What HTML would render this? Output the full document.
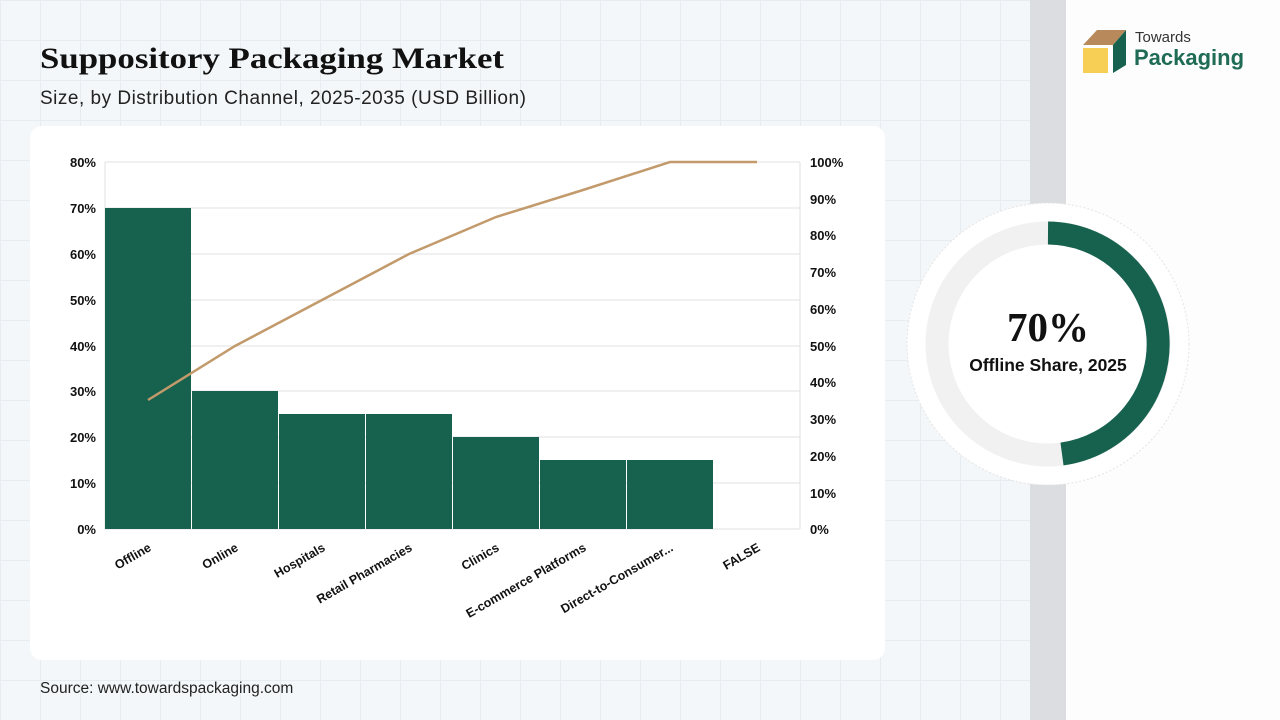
<!DOCTYPE html><html><head><style>
body{margin:0;width:1280px;height:720px;overflow:hidden;font-family:"Liberation Sans",sans-serif;position:relative;
background-color:#f4f7f9;background-image:linear-gradient(#e6ecef 1px,transparent 1px),linear-gradient(90deg,#e6ecef 1px,transparent 1px);background-size:40px 40px}
</style></head><body>
<div style="position:absolute;left:1030px;top:0;width:36px;height:720px;background:#dcdde0"></div>
<div style="position:absolute;left:1066px;top:0;width:214px;height:720px;background:#fdfdfd"></div>
<div style="position:absolute;left:40px;top:42px;font-family:'Liberation Serif',serif;font-weight:bold;font-size:30px;color:#111;transform:scaleX(1.16);transform-origin:left top;white-space:nowrap">Suppository Packaging Market</div>
<div style="position:absolute;left:40px;top:88px;font-size:19px;letter-spacing:0.5px;color:#222;white-space:nowrap">Size, by Distribution Channel, 2025-2035 (USD Billion)</div>
<div style="position:absolute;left:30px;top:126px;width:855px;height:534px;background:#fff;border-radius:12px"></div>
<div style="position:absolute;left:40px;top:680px;font-size:15.5px;color:#222">Source: www.towardspackaging.com</div>
<svg width="1280" height="720" style="position:absolute;left:0;top:0" font-family="Liberation Sans" font-weight="bold" font-size="13">
<g stroke="#e0e0e0">
<line x1="105" x2="800" y1="162" y2="162"/><line x1="105" x2="800" y1="208" y2="208"/><line x1="105" x2="800" y1="254" y2="254"/><line x1="105" x2="800" y1="300" y2="300"/><line x1="105" x2="800" y1="346" y2="346"/><line x1="105" x2="800" y1="391" y2="391"/><line x1="105" x2="800" y1="437" y2="437"/><line x1="105" x2="800" y1="483" y2="483"/><line x1="105" x2="800" y1="529" y2="529"/>
<line x1="105" x2="105" y1="162" y2="529"/><line x1="800" x2="800" y1="162" y2="529"/></g>
<g fill="#17614f">
<rect x="105" y="208" width="86" height="321"/><rect x="192" y="391" width="86" height="138"/><rect x="279" y="414" width="86" height="115"/><rect x="366" y="414" width="86" height="115"/><rect x="453" y="437" width="86" height="92"/><rect x="540" y="460" width="86" height="69"/><rect x="627" y="460" width="86" height="69"/></g>
<polyline fill="none" stroke="#c29a6b" stroke-width="2.5" points="148,400 235,346 322,300 409,254 496,217 583,190 670,162 757,162"/>
<g text-anchor="end" fill="#111">
<text x="96" y="167">80%</text><text x="96" y="213">70%</text><text x="96" y="259">60%</text><text x="96" y="305">50%</text><text x="96" y="351">40%</text><text x="96" y="396">30%</text><text x="96" y="442">20%</text><text x="96" y="488">10%</text><text x="96" y="534">0%</text></g>
<g fill="#111">
<text x="810" y="167">100%</text><text x="810" y="204">90%</text><text x="810" y="240">80%</text><text x="810" y="277">70%</text><text x="810" y="314">60%</text><text x="810" y="351">50%</text><text x="810" y="387">40%</text><text x="810" y="424">30%</text><text x="810" y="461">20%</text><text x="810" y="498">10%</text><text x="810" y="534">0%</text></g>
<g text-anchor="end" fill="#111" font-size="12.5">
<text transform="translate(152,550) rotate(-30)">Offline</text>
<text transform="translate(239,550) rotate(-30)">Online</text>
<text transform="translate(326,550) rotate(-30)">Hospitals</text>
<text transform="translate(413,550) rotate(-30)">Retail Pharmacies</text>
<text transform="translate(500,550) rotate(-30)">Clinics</text>
<text transform="translate(587,550) rotate(-30)">E-commerce Platforms</text>
<text transform="translate(674,550) rotate(-30)">Direct-to-Consumer...</text>
<text transform="translate(761,550) rotate(-30)">FALSE</text></g>
<circle cx="1048" cy="344" r="141" fill="#fff" stroke="#e4e4e4" stroke-dasharray="2 2"/>
<circle cx="1048" cy="344" r="111" fill="none" stroke="#f1f1f1" stroke-width="23"/>
<path d="M1048,233 A111,111 0 0 1 1062,454" fill="none" stroke="#17614f" stroke-width="23"/>
<text x="1048" y="341" text-anchor="middle" font-family="Liberation Serif" font-size="41" fill="#111">70%</text>
<text x="1048" y="371" text-anchor="middle" font-size="17.5" fill="#111">Offline Share, 2025</text>
<polygon points="1083,45 1097,30 1126,30 1113,45" fill="#b8895a"/>
<polygon points="1113,45 1126,30 1126,65 1113,73" fill="#17614f"/>
<rect x="1083" y="48" width="25" height="25" fill="#f7cf55"/>
<text x="1135" y="42" font-weight="normal" font-size="15" fill="#333">Towards</text>
<text x="1134" y="65" font-size="22" fill="#1f6b55">Packaging</text>
</svg>
</body></html>
